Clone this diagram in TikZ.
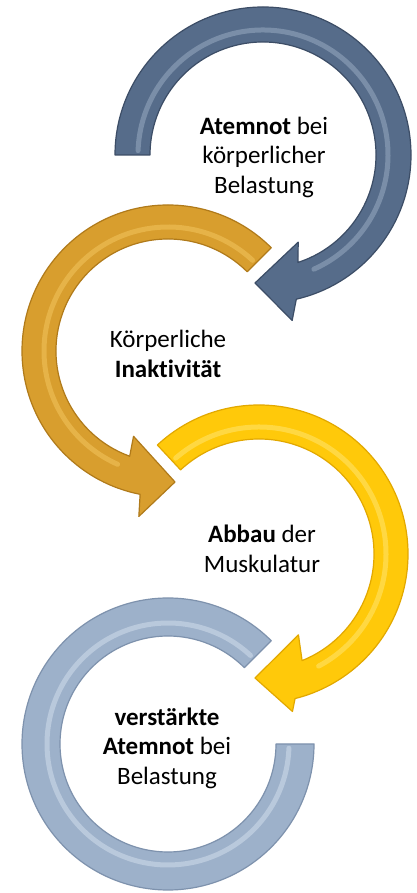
\documentclass[tikz,border=0pt]{standalone}
\usepackage{fontspec}
\setmainfont{Carlito}[Ligatures=NoCommon, Contextuals=NoAlternate]
\definecolor{slatebase}{HTML}{566C8A}
\definecolor{slatedark}{HTML}{3C4D66}
\definecolor{slatehi}{HTML}{9FB0C6}
\definecolor{goldbase}{HTML}{D89E2E}
\definecolor{golddark}{HTML}{B07A1A}
\definecolor{goldhi}{HTML}{F4C862}
\definecolor{yelbase}{HTML}{FFC90A}
\definecolor{yeldark}{HTML}{E2A800}
\definecolor{yelhi}{HTML}{FFE87A}
\definecolor{bluebase}{HTML}{9DB1CA}
\definecolor{bluedark}{HTML}{7E92AD}
\definecolor{bluehi}{HTML}{D6E1EE}
\tikzset{
  lbl/.style={align=center, inner sep=0pt, text=black, font=\fontsize{25}{29.5}\selectfont},
  body/.style={line width=1.2pt, line join=round},
  ridge/.style={line width=5pt, line cap=round, opacity=0.5},
}
\begin{document}
\begin{tikzpicture}[x=1pt,y=1pt]
\useasboundingbox (0,0) rectangle (417,893);
\fill[white] (0,0) rectangle (417,893);
% ---- arrow 1 : slate
\begin{scope}[shift={(263,738)}]
  \filldraw[body, fill=slatebase, draw=slatedark]
    (180:148) arc[start angle=180, end angle=-77, radius=148]
    -- (-80:168) -- (-8,-128) -- (-68:94) -- (-72:113)
    arc[start angle=-72, end angle=180, radius=113] -- cycle;
  \draw[ridge, slatehi] (178:125) arc[start angle=178, end angle=-66, radius=125];
\end{scope}
% ---- arrow 2 : gold
\begin{scope}[shift={(168,542)}]
  \filldraw[body, fill=goldbase, draw=golddark]
    (45:146) arc[start angle=45, end angle=259, radius=146]
    -- (260:168) -- (7,-131) -- (248:92) -- (250:112)
    arc[start angle=250, end angle=45, radius=112] -- cycle;
  \draw[ridge, goldhi] (47:124) arc[start angle=47, end angle=246, radius=124];
\end{scope}
% ---- arrow 3 : yellow
\begin{scope}[shift={(259,339)}]
  \filldraw[body, fill=yelbase, draw=yeldark]
    (133:149) arc[start angle=133, end angle=-76, radius=149]
    -- (-78:161) -- (-4,-124) -- (-64:90) -- (-68:115)
    arc[start angle=-68, end angle=133, radius=115] -- cycle;
  \draw[ridge, yelhi] (131:127) arc[start angle=131, end angle=-62, radius=127];
\end{scope}
% ---- ring 4 : light blue
\begin{scope}[shift={(168,149)}]
  \filldraw[body, fill=bluebase, draw=bluedark]
    (45:146) arc[start angle=45, end angle=360, radius=146]
    -- (0:108) arc[start angle=360, end angle=45, radius=108] -- cycle;
  \draw[ridge, bluehi] (47:121) arc[start angle=47, end angle=358, radius=121];
\end{scope}
% ---- labels
\node[lbl] (t1) at (264,736) {\textbf{Atemnot} bei\\körperlicher\\Belastung};
\node[lbl] (t2) at (168,539) {Körperliche\\\textbf{Inaktivit{}ät}};
\node[lbl] (t3) at (262,344) {\textbf{Abbau} der\\Muskulatur};
\node[lbl] (t4) at (167,145) {\textbf{verstärkte}\\\textbf{Atemnot} bei\\Belastung};
\end{tikzpicture}
\end{document}
